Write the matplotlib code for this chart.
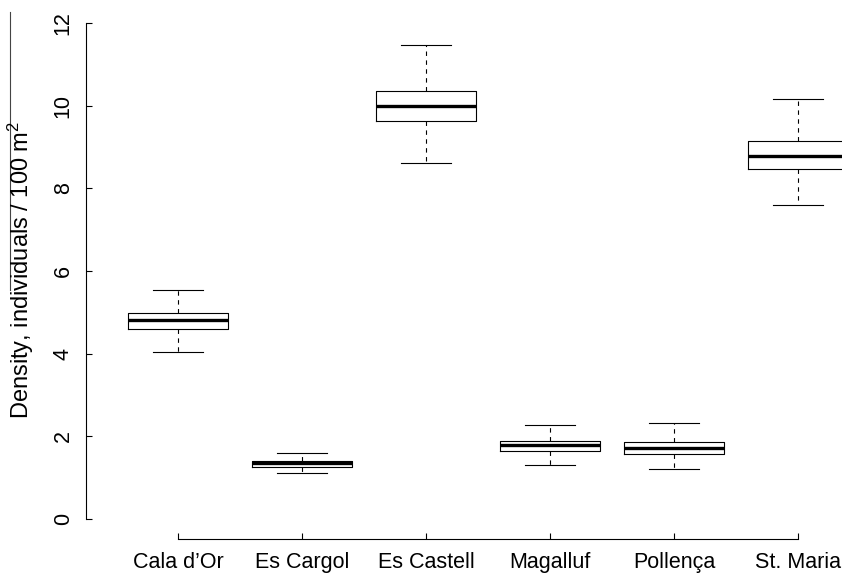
import matplotlib
matplotlib.use('Agg')
import matplotlib.pyplot as plt
from matplotlib.lines import Line2D

plt.rcParams['font.family'] = ['Liberation Sans', 'DejaVu Sans']
plt.rcParams['mathtext.fontset'] = 'custom'
plt.rcParams['mathtext.rm'] = 'Liberation Sans'
plt.rcParams['mathtext.default'] = 'regular'

# Data (box summary per site)
sites = ['Cala d’Or', 'Es Cargol', 'Es Castell', 'Magalluf', 'Pollença', 'St. Maria']
whisker_low = [4.04, 1.11, 8.61, 1.31, 1.21, 7.61]
q1 = [4.60, 1.27, 9.64, 1.66, 1.57, 8.46]
median = [4.82, 1.35, 9.99, 1.79, 1.71, 8.78]
q3 = [4.98, 1.41, 10.36, 1.89, 1.86, 9.15]
whisker_high = [5.54, 1.60, 11.48, 2.27, 2.32, 10.16]
y_ticks = [0, 2, 4, 6, 8, 10, 12]

stats = []
for i, name in enumerate(sites):
    stats.append({'label': name, 'whislo': whisker_low[i], 'q1': q1[i],
                  'med': median[i], 'q3': q3[i], 'whishi': whisker_high[i],
                  'fliers': []})

fig = plt.figure(figsize=(8.42, 5.75), dpi=100)
# axes placed so that the plot region matches the reference (extends past the right edge)
ax = fig.add_axes([86.2 / 842, 36 / 575, 803.5 / 842, 535.8 / 575])

ax.bxp(stats, positions=range(1, 7), widths=0.8, showfliers=False,
       boxprops=dict(color='black', linewidth=0.8),
       whiskerprops=dict(color='black', linewidth=0.8, linestyle=(0, (4, 4))),
       capprops=dict(color='black', linewidth=0.8),
       medianprops=dict(color='black', linewidth=2.4),
       capwidths=0.4)

ax.set_xlim(0.26, 6.74)
ax.set_ylim(-0.48, 12.48)

for s in ['top', 'right']:
    ax.spines[s].set_visible(False)
ax.spines['left'].set_bounds(0, 12)
ax.spines['bottom'].set_bounds(1, 6)
ax.spines['left'].set_linewidth(0.8)
ax.spines['bottom'].set_linewidth(0.8)

ax.set_yticks(y_ticks)
ax.set_yticklabels([str(t) for t in y_ticks], rotation=90, va='center')
ax.set_xticks(range(1, 7))
ax.set_xticklabels(sites)
ax.tick_params(axis='y', direction='in', length=4.3, width=0.8, labelsize=15.5, pad=9)
ax.tick_params(axis='x', direction='in', length=4.3, width=0.8, labelsize=15.5, pad=9.5)

fig.text(21 / 842, 0.53, r'Density, individuals / 100 m$^2$', rotation=90,
         ha='center', va='center', fontsize=17)
fig.add_artist(Line2D([9.5 / 842, 9.5 / 842], [1 - 12 / 575, 1 - 290 / 575],
                      transform=fig.transFigure, color='#444444', linewidth=0.8))

fig.savefig('out.png', dpi=100)
